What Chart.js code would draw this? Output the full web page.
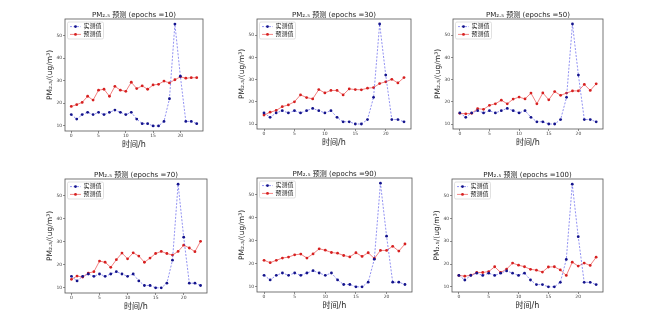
<!DOCTYPE html>
<html><head><meta charset="utf-8">
<script src="https://cdn.jsdelivr.net/npm/chart.js@4/dist/chart.umd.min.js"></script>
<style>
html,body{margin:0;padding:0;background:#fff;width:650px;height:320px;overflow:hidden;}
#wrap{position:relative;width:650px;height:320px;background:#fff;}
canvas{position:absolute;}
</style></head><body><div id="wrap"></div>
<script>
// ---- data ----
const hours = [0,1,2,3,4,5,6,7,8,9,10,11,12,13,14,15,16,17,18,19,20,21,22,23];
const actual = [15,13,15,16,15,16,15,16,17,16,15,16,13,11,11,10,10,12,22,55,32,12,12,11];
const pred10 = [18.6,19.4,20.4,23.1,21.4,25.8,26.2,23.1,27.5,25.8,25.3,29.3,26.5,27.7,26.2,28.1,28.4,29.8,29.0,30.4,31.7,31.1,31.3,31.3];
const pred30 = [14.0,15.3,16.1,17.8,18.6,20.0,23.1,21.9,21.3,25.5,24.0,25.1,25.1,23.1,25.8,25.5,25.4,26.1,26.4,28.2,29.0,30.1,28.5,30.9];
const pred50 = [14.8,14.6,14.8,16.9,16.6,18.4,19.1,20.7,19.1,21.2,22.1,21.3,23.9,19.1,24.0,20.9,24.6,22.9,23.9,24.9,24.9,27.8,25.1,28.1];
const pred70 = [13.7,15.1,14.7,16.4,17.0,21.6,21.1,18.9,22.2,25.1,22.6,25.2,23.8,21.1,22.9,24.9,25.8,24.9,24.2,25.8,28.5,27.3,25.7,30.2];
const pred90 = [21.5,20.5,21.5,22.5,22.9,23.9,24.2,22.5,24.3,26.5,25.9,24.9,24.6,23.6,23.0,24.8,23.2,24.8,22.3,25.8,25.8,27.6,25.5,28.6];
const pred100 = [15.0,14.7,15.1,16.3,16.3,16.7,18.8,16.3,17.8,20.4,19.5,18.8,17.7,17.3,16.5,18.7,18.8,17.4,15.0,20.8,19.1,20.4,19.4,23.0];
const epochs = [10,30,50,70,90,100];
const predictions = [pred10,pred30,pred50,pred70,pred90,pred100];
const xTicks = [0,5,10,15,20];
const yTicks = [10,20,30,40,50];
const seriesNames = ['实测值','预测值'];
const xTitle = '时间/h';
const yTitle = 'PM₂.₅/(ug/m³)';

// ---- layout (plot-area rectangles) ----
const panels = [
  {L:65,R:203,T:19,B:131},
  {L:257,R:411,T:19,B:129},
  {L:453,R:603,T:19,B:129},
  {L:65,R:207,T:179,B:293},
  {L:257,R:412,T:178,B:292},
  {L:452,R:603,T:179,B:292}
];
const PADL=30, PADR=30, PADT=18, PADB=22;
const FONT = "'DejaVu Sans','Noto Sans CJK SC',sans-serif";

const framePlugin = {id:'frame', afterDatasetsDraw(chart){
  const {ctx, chartArea:ca} = chart;
  ctx.save();
  ctx.strokeStyle='#555'; ctx.lineWidth=0.8;
  ctx.strokeRect(ca.left, ca.top, ca.right-ca.left, ca.bottom-ca.top);
  ctx.restore();
}};
const legendPlugin = {id:'mplLegend', afterDraw(chart){
  const {ctx, chartArea:ca} = chart;
  const x = ca.left+2.5, y = ca.top+3, w=36, h=17;
  ctx.save();
  ctx.beginPath();
  ctx.roundRect(x,y,w,h,1.5);
  ctx.fillStyle='rgba(255,255,255,0.85)'; ctx.fill();
  ctx.strokeStyle='#cccccc'; ctx.lineWidth=0.6; ctx.stroke();
  chart.data.datasets.forEach((ds,i)=>{
    const cy = y + 4.6 + i*7.8;
    ctx.beginPath();
    ctx.strokeStyle = ds.borderColor; ctx.lineWidth = ds.borderWidth;
    ctx.setLineDash(ds.borderDash||[]);
    ctx.moveTo(x+2.5, cy); ctx.lineTo(x+13.5, cy); ctx.stroke();
    ctx.setLineDash([]);
    ctx.beginPath(); ctx.arc(x+8, cy, ds.pointRadius, 0, Math.PI*2);
    ctx.fillStyle = ds.pointBackgroundColor; ctx.fill();
    ctx.fillStyle='#222'; ctx.font = '6px '+FONT; ctx.textBaseline='middle'; ctx.textAlign='left';
    ctx.fillText(ds.label, x+16, cy+0.3);
  });
  ctx.restore();
}};

const wrap = document.getElementById('wrap');
panels.forEach((r,i)=>{
  const cv = document.createElement('canvas');
  const W = r.R-r.L+PADL+PADR, H = r.B-r.T+PADT+PADB;
  cv.width=W; cv.height=H;
  cv.style.left=(r.L-PADL)+'px'; cv.style.top=(r.T-PADT)+'px';
  cv.style.width=W+'px'; cv.style.height=H+'px';
  wrap.appendChild(cv);
  const gridOpts = {display:true, drawOnChartArea:false, drawTicks:true, tickLength:2, tickColor:'#444', tickWidth:0.6};
  new Chart(cv,{
    type:'line',
    data:{datasets:[
      {label:seriesNames[0], data:hours.map((h,k)=>({x:h,y:actual[k]})),
       borderColor:'rgba(60,60,230,0.8)', borderDash:[2,1.5], borderWidth:0.7,
       pointRadius:1.4, pointBackgroundColor:'#14148c', pointBorderWidth:0, tension:0},
      {label:seriesNames[1], data:hours.map((h,k)=>({x:h,y:predictions[i][k]})),
       borderColor:'rgba(235,70,70,0.85)', borderWidth:0.8,
       pointRadius:1.4, pointBackgroundColor:'#d62020', pointBorderWidth:0, tension:0}
    ]},
    options:{
      responsive:false, animation:false, devicePixelRatio:1,
      layout:{padding:{left:0,right:PADR,top:0,bottom:0}},
      plugins:{
        legend:{display:false}, tooltip:{enabled:false},
        title:{display:true, fullSize:false, text:'PM₂.₅ 预测 (epochs ='+epochs[i]+')', color:'#222',
          font:{family:FONT,size:7,lineHeight:1,weight:'normal'}, padding:{top:10.5,bottom:0.5}}
      },
      scales:{
        x:{type:'linear', min:-1.15, max:24.15,
          afterBuildTicks:s=>{s.ticks=xTicks.map(v=>({value:v}));},
          afterFit:s=>{s.height=PADB;},
          grid:gridOpts, border:{display:false},
          ticks:{font:{family:FONT,size:4.5,lineHeight:1}, color:'#444', padding:0.5, autoSkip:false, maxRotation:0},
          title:{display:true, text:xTitle, color:'#222', font:{family:FONT,size:8,lineHeight:1}, padding:{top:0,bottom:4}}},
        y:{type:'linear', min:7.75, max:57.25,
          afterBuildTicks:s=>{s.ticks=yTicks.map(v=>({value:v}));},
          afterFit:s=>{s.width=PADL;},
          grid:gridOpts, border:{display:false},
          ticks:{font:{family:FONT,size:4.5,lineHeight:1}, color:'#444', padding:0.8, autoSkip:false},
          title:{display:true, text:yTitle, color:'#222', font:{family:FONT,size:7.5,lineHeight:1}, padding:{top:11,bottom:0}}}
      }
    },
    plugins:[framePlugin, legendPlugin]
  });
});
</script></body></html>
